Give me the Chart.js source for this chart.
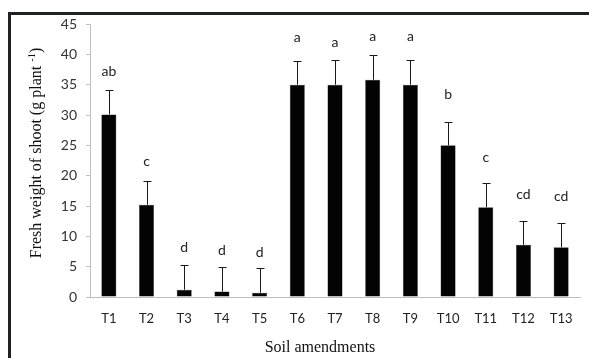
<!DOCTYPE html>
<html>
<head>
<meta charset="utf-8">
<script src="https://cdn.jsdelivr.net/npm/chart.js@4"></script>
<style>
  html, body { margin: 0; padding: 0; background: #fff; }
  #wrap { position: relative; width: 589px; height: 358px; }
  #frame {
    position: absolute; left: 8px; top: 12px; right: 0; bottom: 0;
    border-top: 3px solid #1f2125; border-left: 3px solid #1f2125;
    pointer-events: none;
  }
</style>
</head>
<body>
<div id="wrap">
  <canvas id="chart" width="589" height="358"></canvas>
  <div id="frame"></div>
</div>
<script>
const treatments = ['T1', 'T2', 'T3', 'T4', 'T5', 'T6', 'T7', 'T8', 'T9', 'T10', 'T11', 'T12', 'T13'];
const freshWeight = [30.1, 15.2, 1.2, 0.9, 0.7, 35.0, 35.0, 35.8, 35.0, 25.0, 14.8, 8.6, 8.2];
const errors = [4.1, 4.0, 4.0, 4.0, 4.0, 3.9, 4.1, 4.1, 4.1, 3.9, 4.0, 4.0, 4.0];
const letters = ['ab', 'c', 'd', 'd', 'd', 'a', 'a', 'a', 'a', 'b', 'c', 'cd', 'cd'];
const letterLevels = [37.2, 22.3, 8.2, 7.6, 7.4, 42.7, 42.0, 43.0, 43.0, 33.4, 23.0, 16.9, 16.6];
const yTicks = [0, 5, 10, 15, 20, 25, 30, 35, 40, 45];

const tickFont = { family: 'Lato', size: 13 };
const titleFont = '16px "Liberation Serif"';
const supFont = '10.5px "Liberation Serif"';

// error bars, significance letters and axis titles
const annotations = {
  id: 'annotations',
  afterDatasetsDraw(chart) {
    const { ctx, scales: { x, y } } = chart;
    ctx.save();
    ctx.strokeStyle = '#1a1a1a';
    ctx.lineWidth = 1;
    freshWeight.forEach((v, i) => {
      const cx = Math.round(x.getPixelForValue(i)) + 0.5;
      const y0 = y.getPixelForValue(v);
      const y1 = Math.round(y.getPixelForValue(v + errors[i])) + 0.5;
      ctx.beginPath();
      ctx.moveTo(cx, y0);
      ctx.lineTo(cx, y1);
      ctx.moveTo(cx - 4, y1);
      ctx.lineTo(cx + 4, y1);
      ctx.stroke();
    });

    ctx.fillStyle = '#222';
    ctx.font = '14px Lato';
    ctx.textAlign = 'center';
    ctx.textBaseline = 'middle';
    letters.forEach((l, i) => {
      ctx.fillText(l, x.getPixelForValue(i), y.getPixelForValue(letterLevels[i]));
    });

    ctx.fillStyle = '#111';
    ctx.font = titleFont;
    ctx.fillText('Soil amendments', 320, 348);

    ctx.translate(37, 153);
    ctx.rotate(-Math.PI / 2);
    const main = 'Fresh weight of shoot (g plant ';
    const sup = '-1';
    const tail = ')';
    ctx.font = titleFont;
    const wMain = ctx.measureText(main).width;
    const wTail = ctx.measureText(tail).width;
    ctx.font = supFont;
    const wSup = ctx.measureText(sup).width;
    let px = -(wMain + wSup + wTail) / 2;
    ctx.textAlign = 'left';
    ctx.font = titleFont;
    ctx.fillText(main, px, 0);
    px += wMain;
    ctx.font = supFont;
    ctx.fillText(sup, px, -5);
    px += wSup;
    ctx.font = titleFont;
    ctx.fillText(tail, px, 0);
    ctx.restore();
  },
};

new Chart(document.getElementById('chart'), {
  type: 'bar',
  data: {
    labels: treatments,
    datasets: [{
      data: freshWeight,
      backgroundColor: '#030303',
      borderColor: '#3a3a3a',
      borderWidth: 0.5,
      barPercentage: 0.4,
      categoryPercentage: 1,
    }],
  },
  plugins: [annotations],
  options: {
    responsive: false,
    animation: false,
    layout: { padding: { top: 24, right: 9, left: 0, bottom: 0 } },
    plugins: { legend: { display: false }, tooltip: { enabled: false } },
    scales: {
      x: {
        grid: { display: false, drawTicks: false },
        border: { color: '#bdbdbd', width: 1 },
        ticks: { color: '#222', font: tickFont, padding: 14, maxRotation: 0, autoSkip: false },
        afterFit(scale) { scale.height = 61; },
      },
      y: {
        min: 0,
        max: 45,
        afterBuildTicks(scale) { scale.ticks = yTicks.map(v => ({ value: v })); },
        grid: { drawOnChartArea: false, drawTicks: true, tickLength: 4, color: '#bdbdbd' },
        border: { color: '#bdbdbd', width: 1 },
        ticks: { color: '#333', font: { family: 'Lato', size: 14 }, padding: 9 },
        afterFit(scale) { scale.width = 90; },
      },
    },
  },
});
</script>
</body>
</html>
